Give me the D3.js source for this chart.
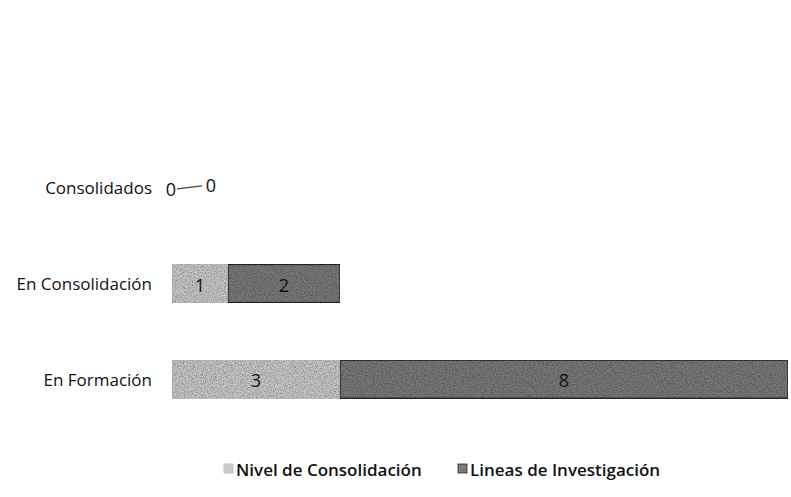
<!DOCTYPE html>
<html>
<head>
<meta charset="utf-8">
<script src="https://cdn.jsdelivr.net/npm/d3@7"></script>
<style>
  html, body { margin: 0; padding: 0; background: #fff; }
  svg { display: block; }
  text { font-family: "Open Sans", "Liberation Sans", sans-serif; }
</style>
</head>
<body>
<svg id="chart" width="791" height="497"></svg>
<script>
// Groups by consolidation stage
const categories = ["Consolidados", "En Consolidación", "En Formación"];
// Stacked series
const nivel = [0, 1, 3];
const lineas = [0, 2, 8];
const seriesNames = ["Nivel de Consolidación", "Lineas de Investigación"];

const svg = d3.select("#chart");

const x = d3.scaleLinear().domain([0, 11]).range([172, 788]);
const y = d3.scaleBand().domain(categories).range([140, 427]).paddingInner(0.6).paddingOuter(0.3);

// grain texture applied to the bar fills
const defs = svg.append("defs");
const f = defs.append("filter").attr("id", "grain").attr("x", 0).attr("y", 0).attr("width", 1).attr("height", 1);
f.append("feTurbulence").attr("type", "fractalNoise").attr("baseFrequency", 0.9).attr("numOctaves", 2).attr("seed", 3).attr("result", "noise");
f.append("feColorMatrix").attr("in", "noise").attr("type", "matrix")
  .attr("values", "0 0 0 0 0  0 0 0 0 0  0 0 0 0 0  0 0 0 -1.2 0.8").attr("result", "dots");
f.append("feComposite").attr("in", "dots").attr("in2", "SourceGraphic").attr("operator", "in").attr("result", "speck");
f.append("feMerge").selectAll("feMergeNode").data(["SourceGraphic", "speck"]).join("feMergeNode").attr("in", d => d);

const colors = ["#c9c9c9", "#7a7a7a"];
const strokes = ["#bdbdbd", "#2a2a2a"];

const rows = categories.map((c, i) => ({ cat: c, vals: [nivel[i], lineas[i]] }));

// category labels
svg.append("g").selectAll("text").data(categories).join("text")
  .attr("x", 152).attr("y", d => y(d) + y.bandwidth() / 2)
  .attr("text-anchor", "end").attr("dominant-baseline", "central")
  .attr("font-size", 17).attr("fill", "#111").text(d => d);

const bars = svg.append("g");
rows.forEach(r => {
  let acc = 0;
  r.vals.forEach((v, k) => {
    const x0 = x(acc), x1 = x(acc + v);
    acc += v;
    if (v > 0) {
      bars.append("rect")
        .attr("x", x0).attr("y", y(r.cat)).attr("width", x1 - x0).attr("height", y.bandwidth())
        .attr("fill", colors[k]).attr("stroke", strokes[k]).attr("stroke-width", k === 1 ? 1.5 : 0.8)
        .attr("filter", "url(#grain)");
      svg.append("text")
        .attr("x", (x0 + x1) / 2).attr("y", y(r.cat) + y.bandwidth() / 2 + 1)
        .attr("text-anchor", "middle").attr("dominant-baseline", "central")
        .attr("font-size", 18).attr("fill", "#111").text(v);
    }
  });
});

// zero-value labels with a leader line
rows.forEach(r => {
  if (r.vals[0] === 0 && r.vals[1] === 0) {
    const cy = y(r.cat) + y.bandwidth() / 2;
    svg.append("text").attr("x", x(0) - 1).attr("y", cy + 1)
      .attr("text-anchor", "middle").attr("dominant-baseline", "central")
      .attr("font-size", 18).attr("fill", "#111").text(r.vals[0]);
    svg.append("line").attr("x1", x(0) + 5).attr("x2", x(0) + 30)
      .attr("y1", cy + 1).attr("y2", cy - 2).attr("stroke", "#444").attr("stroke-width", 1.2);
    svg.append("text").attr("x", x(0) + 39).attr("y", cy - 3)
      .attr("text-anchor", "middle").attr("dominant-baseline", "central")
      .attr("font-size", 18).attr("fill", "#111").text(r.vals[1]);
  }
});

// legend
const legend = svg.append("g");
const legendPos = [224, 458];
seriesNames.forEach((s, k) => {
  const g = legend.append("g").attr("transform", `translate(${legendPos[k]},469)`);
  g.append("rect").attr("x", 0).attr("y", -5).attr("width", 9).attr("height", 9)
    .attr("fill", colors[k]).attr("stroke", strokes[k]).attr("stroke-width", 0.8);
  g.append("text").attr("x", 12).attr("y", 0).attr("dominant-baseline", "central")
    .attr("font-size", 17).attr("font-weight", 600).attr("fill", "#111").text(s);
});
</script>
</body>
</html>
